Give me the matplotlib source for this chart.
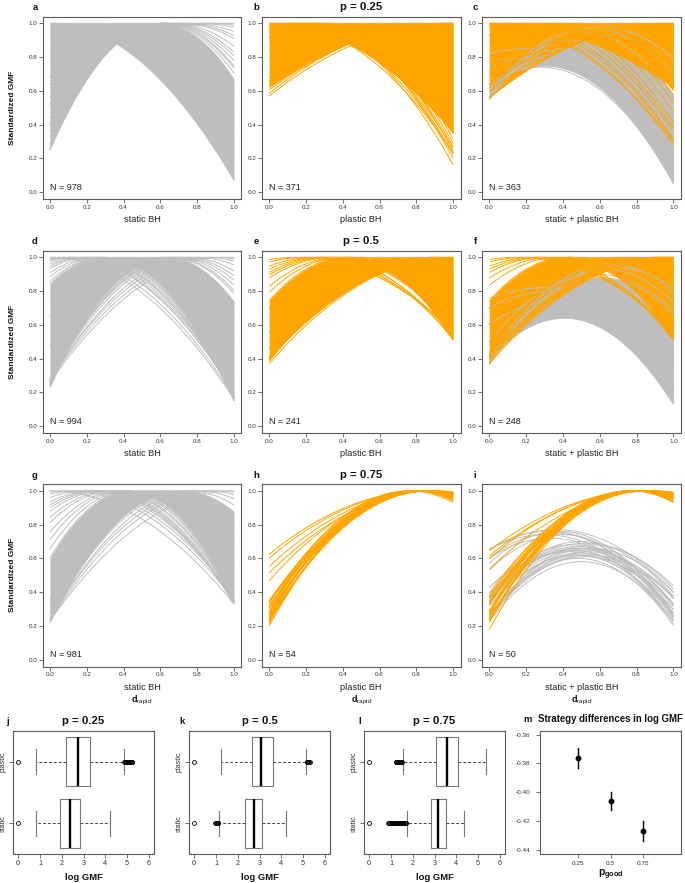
import numpy as np
import matplotlib
matplotlib.use('Agg')
import matplotlib.pyplot as plt

plt.rcParams['font.family'] = ['Liberation Sans', 'DejaVu Sans']
plt.rcParams['mathtext.fontset'] = 'custom'
plt.rcParams['mathtext.rm'] = 'Liberation Sans'
plt.rcParams['mathtext.bf'] = 'Liberation Sans:bold'
plt.rcParams['mathtext.it'] = 'Liberation Sans:italic'

GRAY = '#bebebe'
ORANGE = '#ffa500'
SPINE = '#5a5a5a'
TXT = '#333333'

# ---------------- data ----------------
p_titles = ['p = 0.25', 'p = 0.5', 'p = 0.75']
col_xlabels = ['static BH', 'plastic BH', 'static + plastic BH']
letters = [['a', 'b', 'c'], ['d', 'e', 'f'], ['g', 'h', 'i']]
n_counts = [[978, 371, 363], [994, 241, 248], [981, 54, 50]]
axis_ticks = [0.0, 0.2, 0.4, 0.6, 0.8, 1.0]

# standardized GMF curves: (vertex, curvature) with peak 1, or (vertex, peak, curvature)
a_dense = [(0.0, 0.93), (0.05, 1.03), (0.15, 1.1), (0.25, 1.2), (0.35, 1.4), (0.4, 2.0),
           (0.45, 1.8), (0.5, 3.0), (0.55, 2.0), (0.6, 2.08)]
a_sparse = [(0.61, 1.95), (0.62, 1.85), (0.62, 1.75), (0.63, 1.62), (0.64, 1.5), (0.65, 1.4),
            (0.67, 1.25), (0.7, 1.0), (0.72, 0.92), (0.75, 0.78), (0.8, 0.6), (0.85, 0.5),
            (0.9, 0.4), (1.0, 0.24)]

b_dense = [(0.0, 0.65), (0.1, 0.8), (0.2, 1.0), (0.3, 1.2), (0.4, 1.3), (0.5, 1.2), (0.6, 0.9),
           (0.7, 0.7), (0.8, 0.55), (0.9, 0.45), (1.0, 0.38)]
b_sparse = [(0.05, 0.85), (0.12, 1.0), (0.148, 1.157), (0.16, 1.05), (0.18, 1.15), (0.2, 1.25),
            (0.22, 1.2), (0.25, 1.35), (0.26, 1.3), (0.3, 1.4), (0.33, 1.45), (0.95, 0.46),
            (0.98, 0.41), (1.0, 0.43)]

c_gray_dense = [(0.3, 0.748, 1.425), (0.32, 0.76, 1.2), (0.35, 0.8, 1.6), (0.4, 0.85, 1.8),
                (0.45, 0.9, 1.7), (0.5, 0.95, 1.5), (0.25, 0.8, 0.9), (0.2, 0.85, 0.8)]
c_gray_sparse = [(0.28, 0.74, 1.3), (0.33, 0.78, 1.5), (0.38, 0.82, 1.7), (0.55, 0.97, 1.3),
                 (0.6, 0.98, 1.2)]
c_orange_dense = [(0.0, 0.38), (0.1, 0.45), (0.2, 0.6), (0.3, 0.8), (0.4, 1.1), (0.5, 1.2),
                  (0.6, 1.0), (0.7, 0.75), (0.8, 0.6), (0.9, 0.5), (1.0, 0.44)]
c_orange_sparse = [(0.0, 0.7), (0.05, 0.8), (0.1, 0.85), (0.15, 0.95), (0.2, 1.0), (0.25, 1.1),
                   (0.3, 1.2), (0.35, 1.25), (0.4, 1.3), (0.45, 1.4), (0.97, 0.47)]

d_dense = [(0.30, 1.735), (0.35, 1.9), (0.4, 2.2), (0.45, 2.6), (0.5, 3.0), (0.55, 2.5),
           (0.6, 2.1), (0.631, 1.934)]
d_sparse = [(0.0, 0.84), (0.05, 0.92), (0.1, 1.0), (0.12, 1.05), (0.15, 1.12), (0.18, 1.2),
            (0.2, 1.3), (0.22, 1.36), (0.25, 1.48), (0.27, 1.58), (0.29, 1.68),
            (0.65, 1.75), (0.66, 1.7), (0.68, 1.6), (0.7, 1.5), (0.72, 1.4), (0.75, 1.3),
            (0.8, 1.15), (0.85, 1.0), (0.9, 0.9), (0.95, 0.82)]

e_dense = [(0.42, 1.45), (0.5, 1.8), (0.6, 1.5), (0.7, 1.2), (0.8, 0.95), (0.9, 0.75), (1.0, 0.6)]
e_sparse = [(0.15, 0.6), (0.2, 0.7), (0.25, 0.85), (0.28, 0.9), (0.3, 1.0), (0.33, 0.95),
            (0.35, 1.0), (0.38, 1.2), (0.4, 1.3), (0.44, 1.55), (0.45, 1.5), (0.95, 0.66),
            (1.0, 0.63), (0.9, 0.76)]

f_gray_dense = [(0.407, 0.64, 1.45), (0.45, 0.7, 1.5), (0.5, 0.78, 1.6), (0.55, 0.85, 1.6),
                (0.6, 0.88, 1.35), (0.42, 0.66, 1.3), (0.5, 0.72, 1.2), (0.4, 0.75, 0.9),
                (0.35, 0.8, 0.8)]
f_gray_sparse = [(0.65, 0.96, 1.4), (0.62, 0.93, 1.35), (0.68, 0.94, 1.2), (0.3, 0.82, 0.7),
                 (0.58, 0.9, 1.2)]
f_orange_dense = [(0.42, 1.45), (0.5, 1.6), (0.6, 1.4), (0.7, 1.15), (0.75, 1.0), (0.8, 0.9),
                  (0.9, 0.72), (0.95, 0.65), (1.0, 0.6)]
f_orange_sparse = [(0.15, 0.6), (0.2, 0.7), (0.25, 0.85), (0.28, 0.9), (0.3, 1.0), (0.35, 1.0),
                   (0.38, 1.15), (0.45, 1.5), (0.44, 1.55), (1.0, 0.63), (0.95, 0.69), (0.9, 0.75)]

g_dense = [(0.436, 2.1), (0.5, 2.6), (0.55, 2.2), (0.6, 1.9), (0.65, 1.7), (0.714, 1.53)]
g_sparse = [(0.0, 0.67), (0.1, 0.8), (0.15, 0.88), (0.2, 1.0), (0.24, 1.15), (0.261, 1.227),
            (0.28, 1.28), (0.3, 1.35), (0.33, 1.45), (0.35, 1.55), (0.38, 1.7), (0.4, 1.8),
            (0.42, 1.95), (0.75, 1.35), (0.8, 1.2), (0.85, 1.05), (0.9, 0.95), (1.0, 0.77)]

h_curves = [(0.80, 1.25), (0.82, 1.17), (0.84, 1.1), (0.86, 1.04), (0.80, 1.18), (0.83, 1.08),
            (0.85, 1.0), (0.87, 0.95), (0.79, 1.15), (0.82, 1.05), (0.84, 0.98), (0.86, 0.92),
            (0.81, 1.0), (0.85, 0.9), (0.78, 1.1), (0.88, 0.85), (0.83, 1.12), (0.81, 1.12),
            (0.87, 1.0), (0.78, 1.25), (0.76, 1.2), (0.84, 1.04), (0.80, 1.08),
            (0.85, 0.52), (0.86, 0.54), (0.88, 0.58), (0.9, 0.6), (0.86, 0.72)]

i_gray = [(0.50, 0.58, 1.4), (0.48, 0.60, 1.45), (0.52, 0.61, 1.35), (0.47, 0.62, 1.3),
          (0.50, 0.63, 1.25), (0.53, 0.64, 1.4), (0.45, 0.65, 1.4), (0.50, 0.66, 1.2),
          (0.48, 0.67, 1.3), (0.55, 0.66, 1.3), (0.46, 0.68, 1.2), (0.52, 0.69, 1.1),
          (0.50, 0.70, 1.3), (0.44, 0.64, 1.1), (0.49, 0.62, 1.6), (0.51, 0.65, 1.15),
          (0.47, 0.66, 1.45), (0.56, 0.68, 1.35), (0.54, 0.62, 1.2),
          (0.32, 0.76, 1.05), (0.35, 0.75, 1.2), (0.30, 0.74, 0.95), (0.38, 0.76, 1.3),
          (0.33, 0.72, 1.1), (0.36, 0.77, 0.9), (0.40, 0.74, 1.3)]
i_orange = [(0.78, 1.28), (0.80, 1.2), (0.82, 1.14), (0.84, 1.08), (0.79, 1.18), (0.81, 1.1),
            (0.83, 1.05), (0.85, 0.98), (0.77, 1.2), (0.80, 1.05), (0.82, 1.0), (0.84, 0.95),
            (0.79, 1.0), (0.83, 0.92), (0.76, 1.15), (0.86, 0.88), (0.81, 1.16), (0.78, 1.1),
            (0.85, 1.04), (0.77, 1.3), (0.80, 0.95), (0.82, 1.22),
            (0.85, 0.49), (0.86, 0.52), (0.84, 0.57), (0.88, 0.6)]

panel_groups = [
    [[(GRAY, a_dense, a_sparse)], [(ORANGE, b_dense, b_sparse)],
     [(GRAY, c_gray_dense, c_gray_sparse), (ORANGE, c_orange_dense, c_orange_sparse)]],
    [[(GRAY, d_dense, d_sparse)], [(ORANGE, e_dense, e_sparse)],
     [(GRAY, f_gray_dense, f_gray_sparse), (ORANGE, f_orange_dense, f_orange_sparse)]],
    [[(GRAY, g_dense, g_sparse)], [(ORANGE, [], h_curves)],
     [(GRAY, [], i_gray), (ORANGE, [], i_orange)]],
]

# boxplots of log GMF: (whislo, q1, med, q3, whishi, fliers)
box_labels = ['static', 'plastic']
box_titles = ['p = 0.25', 'p = 0.5', 'p = 0.75']
box_letters = ['j', 'k', 'l']
box_ticks = [0, 1, 2, 3, 4, 5, 6]
j_static = (0.81, 1.91, 2.40, 2.85, 4.20, [0.0])
j_plastic = (0.81, 2.21, 2.73, 3.28, 4.85,
             [0.0, 4.88, 4.91, 4.94, 4.97, 5.0, 5.03, 5.06, 5.09, 5.12, 5.15, 5.18, 5.21, 5.24])
k_static = (1.13, 2.34, 2.76, 3.13, 4.24, [0.0, 0.97, 1.0, 1.03, 1.06, 1.09, 1.11])
k_plastic = (1.22, 2.64, 3.09, 3.63, 5.12, [0.0, 5.16, 5.19, 5.22, 5.25, 5.28, 5.30])
l_static = (1.75, 2.82, 3.17, 3.52, 4.35,
            [0.0, 0.88, 0.92, 0.96, 1.0, 1.04, 1.08, 1.12, 1.16, 1.2, 1.24, 1.28, 1.32, 1.36,
             1.4, 1.44, 1.48, 1.52, 1.56, 1.6, 1.64, 1.68, 1.71])
l_plastic = (1.53, 3.05, 3.59, 4.10, 5.36,
             [0.0, 1.22, 1.25, 1.28, 1.31, 1.34, 1.37, 1.40, 1.43, 1.46, 1.49])
box_data = [(j_static, j_plastic), (k_static, k_plastic), (l_static, l_plastic)]

# strategy differences in log GMF
p_good = [0.25, 0.5, 0.75]
diff_mean = [-0.376, -0.406, -0.427]
diff_lo = [-0.383, -0.412, -0.434]
diff_hi = [-0.3695, -0.3997, -0.4199]
m_yticks = [-0.44, -0.42, -0.40, -0.38, -0.36]

# ---------------- drawing ----------------
W, H = 685, 883
fig = plt.figure(figsize=(W / 100, H / 100), dpi=100)
fig.patch.set_facecolor('white')


def add_ax(l, r, t, b):
    return fig.add_axes([l / W, 1 - b / H, (r - l) / W, (b - t) / H])


def ftext(x, y, s, **kw):
    fig.text(x / W, 1 - y / H, s, **kw)


def style(ax, lab=4.5, pad=1.0):
    for s in ax.spines.values():
        s.set_color(SPINE)
        s.set_linewidth(0.8)
    ax.tick_params(direction='out', length=3, width=0.6, color=SPINE,
                   labelsize=lab, labelcolor=TXT, pad=pad)


X = np.linspace(0, 1, 241)


def curve(t):
    if len(t) == 2:
        v, k = t
        m = 1.0
    else:
        v, m, k = t
    return m - k * (X - v) ** 2


col_lr = [(42.6, 241.4), (261.8, 460.6), (482.0, 680.8)]
row_tb = [(16.5, 199.0), (250.5, 433.0), (484.0, 666.5)]
title_base = [9.5, 244.0, 478.0]

for r in range(3):
    for c in range(3):
        l, rr = col_lr[c]
        t, b = row_tb[r]
        ax = add_ax(l, rr, t, b)
        for color, dense, sparse in panel_groups[r][c]:
            if dense:
                Y = np.array([curve(p) for p in dense])
                ax.fill_between(X, Y.min(axis=0), Y.max(axis=0), color=color, lw=0)
                for y in Y:
                    ax.plot(X, y, color=color, lw=0.7, solid_capstyle='butt')
            for p in sparse:
                ax.plot(X, curve(p), color=color, lw=0.7, solid_capstyle='butt')
        ax.set_xlim(-0.04, 1.04)
        ax.set_ylim(-0.04, 1.04)
        ax.set_xticks(axis_ticks)
        ax.set_xticklabels([f'{v:.1f}' for v in axis_ticks])
        ax.set_yticks(axis_ticks)
        ax.set_yticklabels([f'{v:.1f}' for v in axis_ticks])
        style(ax)
        ax.text(0.0, 0.03, f'N = {n_counts[r][c]}', fontsize=6.5, color='#222222',
                ha='left', va='center')
        cx = (l + rr) / 2
        ftext(cx, b + 21, col_xlabels[c], fontsize=6.6, color='#222222', ha='center', va='center')
        if r == 2:
            ftext(cx, 700, r'$\mathbf{d}_{\mathrm{rapid}}$', fontsize=6.5, color='#111111',
                  ha='center', va='center')
        lx = [35, 256, 475][c]
        ftext(lx, title_base[r], letters[r][c], fontsize=6.8, fontweight='bold',
              color='#111111', ha='center', va='baseline')
        if c == 1:
            ftext(cx, title_base[r], p_titles[r], fontsize=8.2, fontweight='bold',
                  color='#111111', ha='center', va='baseline')
        if c == 0:
            ftext(12.5, (t + b) / 2, 'Standardized GMF', fontsize=6.0, fontweight='bold',
                  rotation=90, color='#111111', ha='center', va='center')

# boxplots
box_lr = [(13, 154), (189, 330), (364, 505)]
box_letter_x = [7, 182, 360]
for i in range(3):
    l, rr = box_lr[i]
    ax = add_ax(l, rr, 731, 854)
    stats = []
    for lab, s in zip(box_labels, box_data[i]):
        stats.append(dict(label=lab, whislo=s[0], q1=s[1], med=s[2], q3=s[3],
                          whishi=s[4], fliers=np.array(s[5])))
    kw = dict(positions=[1, 2], widths=0.8, capwidths=0.4, showfliers=True,
              boxprops=dict(color='#777777', lw=0.8),
              whiskerprops=dict(color='#444444', lw=0.7, linestyle=(0, (3, 2))),
              capprops=dict(color='#777777', lw=0.8),
              medianprops=dict(color='black', lw=1.7),
              flierprops=dict(marker='o', markersize=2.8, markerfacecolor='none',
                              markeredgecolor='black', markeredgewidth=0.6, linestyle='none'))
    try:
        ax.bxp(stats, orientation='horizontal', **kw)
    except TypeError:
        ax.bxp(stats, vert=False, **kw)
    ax.set_xlim(-0.24, 6.24)
    ax.set_ylim(0.5, 2.5)
    ax.set_xticks(box_ticks)
    ax.set_xticklabels([str(v) for v in box_ticks])
    ax.set_yticks([1, 2])
    ax.set_yticklabels(box_labels, rotation=90, va='center')
    style(ax, lab=5.2, pad=1.5)
    cx = (l + rr) / 2
    ftext(cx, 724, box_titles[i], fontsize=8.2, fontweight='bold', color='#111111',
          ha='center', va='baseline')
    ftext(box_letter_x[i], 724, box_letters[i], fontsize=6.8, fontweight='bold',
          color='#111111', ha='center', va='baseline')
    ftext(cx, 877, 'log GMF', fontsize=6.8, fontweight='bold', color='#111111',
          ha='center', va='center')

# panel m
ax = add_ax(540, 681, 731, 854)
for xg, lo, hi in zip(p_good, diff_lo, diff_hi):
    ax.plot([xg, xg], [lo, hi], color='black', lw=1.0)
ax.plot(p_good, diff_mean, 'o', color='black', markersize=3.2)
ax.set_xlim(-0.04, 1.04)
ax.set_ylim(-0.4428, -0.3575)
ax.set_xticks(p_good)
ax.set_xticklabels(['0.25', '0.5', '0.75'])
ax.set_yticks(m_yticks)
ax.set_yticklabels([f'{v:.2f}'.replace('\u2212', '-') for v in m_yticks])
style(ax, lab=4.6, pad=4)
ax.tick_params(axis='x', pad=2)
ftext(610.5, 722.5, 'Strategy differences in log GMF', fontsize=6.9, fontweight='bold',
      color='#111111', ha='center', va='baseline')
ftext(528, 722.5, 'm', fontsize=6.8, fontweight='bold', color='#111111',
      ha='center', va='baseline')
ftext(611, 875, r'$\mathbf{p}_{\mathbf{good}}$', fontsize=7.5, color='#111111',
      ha='center', va='center')

fig.savefig('out.png', dpi=100, facecolor='white')
